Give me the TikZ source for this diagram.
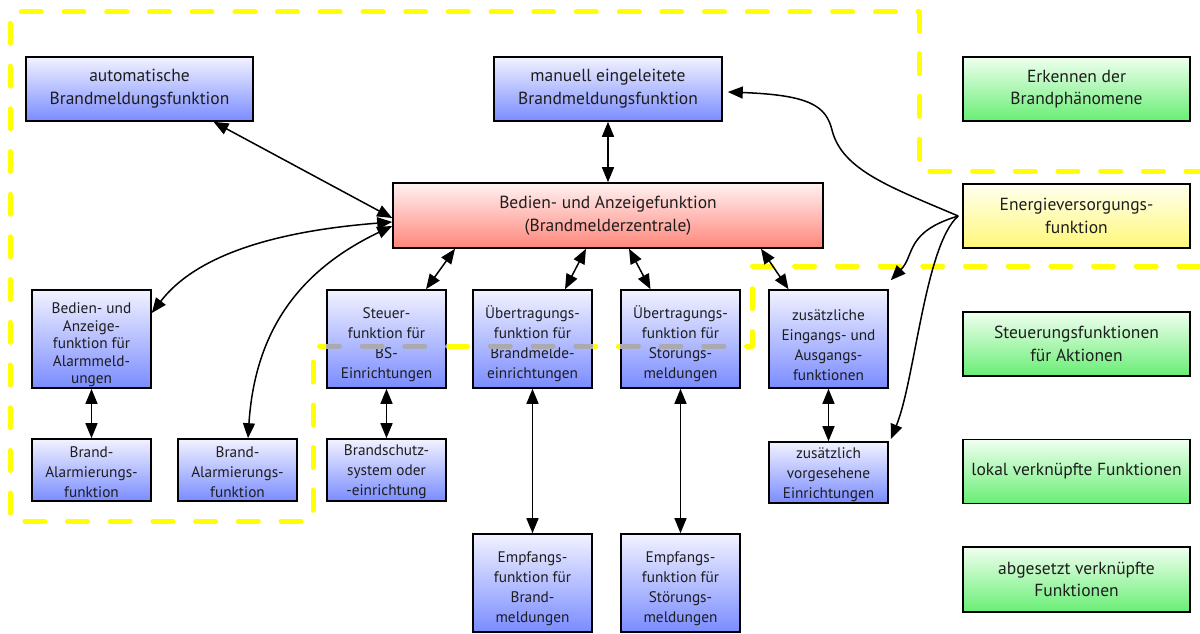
\documentclass[tikz,border=0pt]{standalone}
\usepackage{fontspec}
\setmainfont{PT Sans}
\usetikzlibrary{arrows.meta}

\definecolor{bluetop}{RGB}{242,242,255}
\definecolor{bluebot}{RGB}{122,140,255}
\definecolor{redtop}{RGB}{255,242,242}
\definecolor{redbot}{RGB}{255,134,122}
\definecolor{greentop}{RGB}{240,255,240}
\definecolor{greenbot}{RGB}{104,238,116}
\definecolor{yeltop}{RGB}{255,255,240}
\definecolor{yelbot}{RGB}{255,248,120}
\definecolor{zoneyellow}{RGB}{255,255,0}
\definecolor{zonegray}{RGB}{170,170,176}
\definecolor{inktext}{RGB}{30,30,30}

% taller first line, so that the text block sits a little lower in its box
\newcommand{\dropfour}{\rule{0pt}{23pt}}
\newcommand{\dropthree}{\rule{0pt}{15pt}}

\tikzset{
  box/.style={draw=black, line width=1.6pt, align=center, inner sep=1pt, text=inktext},
  widebox/.style={box, minimum width=227pt, minimum height=64pt,
    font=\fontsize{17.5}{22.7}\selectfont},
  smallbox/.style={box, minimum width=119pt,
    font=\fontsize{15.3}{20}\selectfont},
  bluefill/.style={top color=bluetop, bottom color=bluebot},
  redfill/.style={top color=redtop, bottom color=redbot},
  greenfill/.style={top color=greentop, bottom color=greenbot},
  yellowfill/.style={top color=yeltop, bottom color=yelbot},
  link/.style={line width=1.5pt, {Triangle[length=15pt,width=12pt]}-{Triangle[length=15pt,width=12pt]}},
  feed/.style={line width=1.5pt, -{Triangle[length=15pt,width=12pt]}},
  zone path/.style={insert path={(1206,171) -- (919,171) -- (919,12) -- (10,12) -- (10,521)
    -- (313,521) -- (313,346) -- (752,346) -- (752,266) -- (1206,266)}},
  zone/.style={line width=5pt, line cap=round, line join=round, dash pattern=on 20pt off 22.7pt}
}

\begin{document}
\begin{tikzpicture}[x=1pt,y=-1pt]
\useasboundingbox (0,0) rectangle (1200,634);

% dashed zone boundaries
\draw[zone, draw=zoneyellow, zone path];

% upper row
\node[widebox, bluefill] (auto) at (139.5,89) {automatische\\Brandmeldungsfunktion};
\node[widebox, bluefill, minimum width=228pt] (manual) at (608,89) {manuell eingeleitete\\Brandmeldungsfunktion};
\node[widebox, redfill, minimum width=430pt, minimum height=65pt] (central) at (608,215.5) {Bedien- und Anzeigefunktion\\(Brandmelderzentrale)};

% legend column
\node[widebox, greenfill] (detect) at (1076.5,89) {Erkennen der\\Brandphänomene};
\node[widebox, yellowfill] (power) at (1076.5,216) {Energieversorgungs-\\funktion};
\node[widebox, greenfill] (control) at (1076.5,344) {Steuerungsfunktionen\\für Aktionen};
\node[widebox, greenfill] (local) at (1076.5,471.5) {lokal verknüpfte Funktionen};
\node[widebox, greenfill, minimum height=65pt] (remote) at (1076.5,579.5) {abgesetzt verknüpfte\\Funktionen};

% middle row
\node[smallbox, bluefill, minimum height=98pt, font=\fontsize{15.3}{17.5}\selectfont] (alarmpanel) at (91.5,339) {\dropfour Bedien- und\\Anzeige-\\funktion für\\Alarmmeld-\\ungen};
\node[smallbox, bluefill, minimum height=98pt] (bsctrl) at (386.5,339) {\dropfour Steuer-\\funktion für\\BS-\\Einrichtungen};
\node[smallbox, bluefill, minimum height=98pt] (firetx) at (532.5,339) {\dropfour Übertragungs-\\funktion für\\Brandmelde-\\einrichtungen};
\node[smallbox, bluefill, minimum height=98pt] (faulttx) at (680.5,339) {\dropfour Übertragungs-\\funktion für\\Störungs-\\meldungen};
\node[smallbox, bluefill, minimum height=98pt] (extraio) at (828.5,339) {\dropfour zusätzliche\\Eingangs- und\\Ausgangs-\\funktionen};

% lower row
\node[smallbox, bluefill, minimum height=62pt] (alarmA) at (91.5,470) {\dropthree Brand-\\Alarmierungs-\\funktion};
\node[smallbox, bluefill, minimum height=62pt] (alarmB) at (237.5,470) {\dropthree Brand-\\Alarmierungs-\\funktion};
\node[smallbox, bluefill, minimum height=62pt] (protect) at (386.5,470) {\dropthree Brandschutz-\\system oder\\-einrichtung};
\node[smallbox, bluefill, minimum height=61pt] (extradev) at (828.5,472.5) {\dropthree zusätzlich\\vorgesehene\\Einrichtungen};
\node[smallbox, bluefill, minimum height=98pt] (firerx) at (532.5,583) {\dropfour Empfangs-\\funktion für\\Brand-\\meldungen};
\node[smallbox, bluefill, minimum height=98pt] (faultrx) at (680.5,583) {\dropfour Empfangs-\\funktion für\\Störungs-\\meldungen};

% zone line seen through the boxes it crosses
\begin{scope}
  \clip (bsctrl.north west) rectangle (bsctrl.south east)
        (firetx.north west) rectangle (firetx.south east)
        (faulttx.north west) rectangle (faulttx.south east);
  \draw[zone, draw=zonegray, zone path];
\end{scope}

% links to the control panel
\draw[link] ([xshift=74pt]auto.south) -- ([yshift=-2.5pt]central.west);
\draw[link] (manual.south) -- (central.north);
\draw[link] ([yshift=-6.5pt]central.west) .. controls (290,230) and (200,250) .. ([yshift=26pt]alarmpanel.east);
\draw[link] ([yshift=-10.5pt]central.west) .. controls (300,270) and (255,330) .. ([xshift=10.5pt]alarmB.north);
\draw[link] ([xshift=-153pt]central.south) -- ([xshift=39.5pt]bsctrl.north);
\draw[link] ([xshift=-22pt]central.south) -- ([xshift=32.5pt]firetx.north);
\draw[link] ([xshift=21pt]central.south) -- ([xshift=-30pt]faulttx.north);
\draw[link] ([xshift=153pt]central.south) -- ([xshift=-40pt]extraio.north);

% vertical links
\draw[link] (alarmpanel.south) -- (alarmA.north);
\draw[link] (bsctrl.south) -- (protect.north);
\draw[link] (firetx.south) -- (firerx.north);
\draw[link] (faulttx.south) -- (faultrx.north);
\draw[link] (extraio.south) -- (extradev.north);

% power supply feeds
\coordinate (feed) at ([xshift=-4pt]power.west);
\draw[feed] (feed) .. controls (890,187) and (842,170) .. (832,130)
  .. controls (826,106) and (810,95) .. ([xshift=5pt,yshift=-3pt]manual.east);
\draw[feed] (feed) .. controls (905,232) and (915,255) .. ([xshift=2pt,yshift=9pt]extraio.north east);
\draw[feed] (feed) .. controls (925,245) and (915,380) .. ([xshift=2pt,yshift=2pt]extradev.north east);
\end{tikzpicture}
\end{document}
